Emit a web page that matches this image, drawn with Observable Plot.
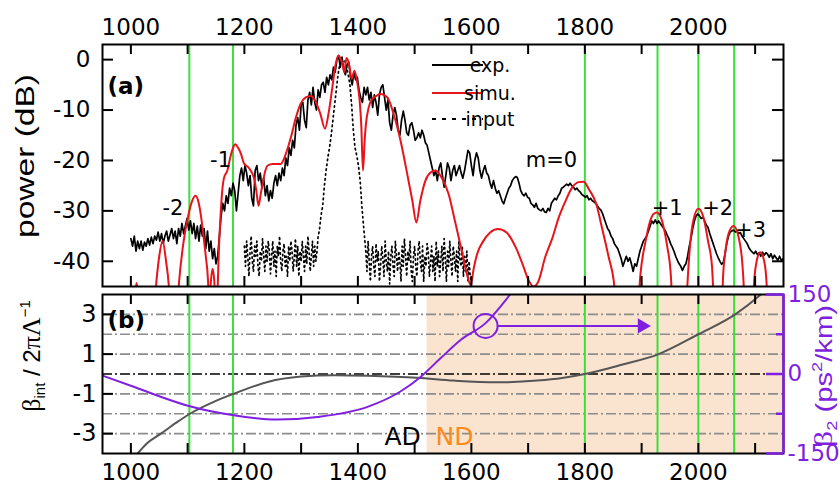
<!DOCTYPE html>
<html>
<head>
<meta charset="utf-8">
<script src="https://cdn.jsdelivr.net/npm/d3@7"></script>
<script src="https://cdn.jsdelivr.net/npm/@observablehq/plot@0.6"></script>
<style>
  body { margin: 0; background: #fff; }
  #chart { position: relative; width: 840px; height: 490px; overflow: hidden; background: #fff; }
  #chart svg { position: absolute; left: 0; }
</style>
</head>
<body>
<div id="chart"></div>
<script>
// ---------- panel (a): spectra, wavelength in nm, power in dB ----------

// measured output spectrum, sampled every 3 nm from 1000 nm
const expStart = 1000, expStep = 3;
const expPower = [
  -35.5, -37, -35, -38, -36, -37.5, -36, -37.8, -36.2, -37,
  -35.5, -36.8, -35.2, -36.5, -35, -35.8, -34.2, -36, -34.5, -36.5,
  -35, -34, -36, -34.8, -33.5, -35.5, -34, -36.5, -33.5, -35,
  -32.5, -34.5, -33, -31.5, -33.8, -32, -34.5, -32.5, -35.5, -33,
  -36, -32.8, -35, -33.5, -37.5, -34, -38, -36, -39.5, -37.5,
  -40.5, -39, -35, -31, -28.5, -30, -27, -28.5, -25.5, -27,
  -24.5, -26, -30, -26.5, -23, -21.5, -24, -21, -22.5, -25,
  -23, -27.5, -29, -22, -21, -24, -22.5, -25.5, -23.5, -27,
  -25, -28, -26, -27.5, -24.5, -23, -25, -22.5, -24, -21.5,
  -23, -19.5, -21, -17.5, -19, -16, -17.5, -13, -11.5, -14,
  -9, -8.5, -12, -13.5, -8, -6.5, -9, -5.5, -8.5, -10,
  -6, -7.5, -5, -4.5, -6.5, -3.5, -5, -3, -4, -1.5,
  -2.5, 0, 0.8, -1.5, 0.5, -2, -3, -1, -0.5, -3.5,
  -5, -2.5, -4, -3.5, -6, -7.5, -8.5, -5.5, -7, -5.5,
  -8, -6.5, -9.5, -7, -8.5, -11, -7, -5.5, -5, -7.5,
  -10, -8, -12.5, -14, -11, -9.5, -11, -14, -15, -12,
  -10.2, -12, -14.5, -15, -13, -12.5, -14, -16, -15.5, -14.5,
  -15.5, -14, -15, -16.5, -17, -18.5, -20, -21.5, -23, -22,
  -24, -21.5, -20.5, -23, -25.3, -23, -20.5, -21.5, -24, -22,
  -21, -23, -22, -21, -22.5, -23.5, -22, -20, -18, -18.5,
  -21, -23, -20, -18.5, -19.5, -22, -23.5, -22, -21, -22.5,
  -23, -24.5, -25.5, -24, -25.5, -26.5, -26, -27, -28, -28.6,
  -27.5, -26.5, -25.5, -25, -24, -23.5, -23.2, -23.4, -24.5, -26,
  -26.7, -27, -26.5, -27.3, -27.5, -28.5, -28.8, -29.3, -28.5, -29.5,
  -29.8, -30, -29.5, -30.2, -30.3, -29.5, -30, -28.5, -28, -27.5,
  -27.8, -27, -26.5, -25.5, -25.3, -25, -24.7, -25, -24.5, -25,
  -25.3, -25.8, -25.5, -26, -26.3, -26.8, -27, -27.3, -27, -27.8,
  -27.5, -28, -28.2, -28.5, -29, -29.5, -29.8, -30.5, -31.5, -32.5,
  -33.5, -34, -35, -35.5, -36.5, -37, -37.5, -38.5, -39.5, -41,
  -40, -39, -40, -39.3, -40.5, -42, -40.5, -41, -39.5, -38,
  -37, -36, -35.5, -35, -34, -33, -32, -32.5, -31.8, -32.5,
  -32, -32.5, -33, -33.5, -34, -34.8, -35.5, -36.5, -37.2, -38,
  -39, -39.8, -40.5, -41, -41.8, -41, -40.5, -39, -37, -35.5,
  -33.5, -32, -31, -30.6, -31, -31.5, -31.3, -32, -32.8, -33.3,
  -34.5, -35.5, -36.5, -37.5, -38.5, -39.3, -40, -40.6, -40.2, -38.5,
  -36.5, -35, -34.2, -34, -33.8, -34.2, -34, -34.5, -34.3, -35,
  -35.5, -36, -36.5, -37.3, -37.8, -38.2, -38.5, -38, -38.7, -38.3,
  -39, -38.2, -38.8, -38.3, -38.6, -39.2, -38.5, -39.5, -38.8, -39.3,
  -39.8, -39, -39.8, -39.5
];

// simulated output spectrum [nm, dB]; lobes dip far below the frame between peaks
const simuSpectrum = [
  [950, -60], [1004, -50], [1010, -44.3], [1016, -50], [1036, -58],
  [1045, -44], [1050, -39], [1056, -36], [1062, -40], [1067, -45], [1072, -55],
  [1080, -52], [1085, -44], [1093, -36], [1101, -31], [1108, -28], [1114, -27],
  [1119, -28.2], [1123, -30.6], [1128, -35], [1132, -39], [1136, -44], [1138, -50],
  [1141, -44], [1144, -41.5], [1147, -44], [1150, -52], [1153, -45], [1155, -38],
  [1158, -31], [1161, -26], [1164, -23.5], [1170, -22], [1176, -19], [1180, -17.5],
  [1184, -16.8], [1189, -17.5], [1194, -18.7], [1199, -20.5], [1208, -21.5],
  [1217, -23.5], [1221, -26], [1225, -29], [1229, -26.5], [1232, -24.7], [1237, -22],
  [1241, -21], [1250, -20.7], [1264, -20.7], [1273, -18.7], [1282, -15.4],
  [1291, -11.4], [1299, -8.8], [1308, -7.5], [1317, -7.2], [1325, -8.2],
  [1334, -10.8], [1342, -13.7], [1349, -10.2], [1355, -5.5], [1361, -0.8],
  [1366, 0.8], [1370, 0], [1373, -0.8], [1376, -2.5], [1380, 0.3], [1385, -1.2],
  [1389, -3.8], [1394, -2.2], [1399, -4.6], [1403, -8], [1406, -13], [1409, -22],
  [1412, -16], [1414, -13], [1419, -9.5], [1424, -8], [1431, -7.3], [1440, -6.8],
  [1452, -7.5], [1463, -10.8], [1475, -16], [1487, -22.7], [1496, -28], [1503, -32.3],
  [1510, -28], [1519, -24], [1528, -22.4], [1537, -22], [1548, -23.5], [1560, -26.7],
  [1571, -32], [1583, -37.9], [1592, -42.5], [1599, -44.7], [1604, -41.5],
  [1610, -38.6], [1621, -36], [1633, -34.3], [1647, -33.6], [1662, -34.3],
  [1678, -37.2], [1690, -40.5], [1701, -43.8], [1710, -45], [1718, -44],
  [1730, -39.2], [1743, -35.3], [1754, -31.3], [1766, -28], [1778, -25.3],
  [1789, -24.3], [1798, -24.2], [1807, -25.7], [1820, -28.6], [1830, -33.3],
  [1842, -39.2], [1851, -44], [1856, -50], [1875, -60], [1893, -50],
  [1898, -42.5], [1907, -36], [1915, -32], [1921, -30.6], [1927, -30.3],
  [1936, -32], [1945, -37], [1951, -42], [1955, -50], [1968, -60], [1978, -50],
  [1982, -42], [1986, -36], [1991, -32], [2000, -29.6], [2009, -31.3], [2017, -36],
  [2024, -41], [2028, -50], [2036, -60], [2041, -50], [2044, -42], [2047, -38.6],
  [2053, -34.6], [2062, -33], [2071, -35.3], [2077, -39.8], [2080, -45], [2083, -55],
  [2090, -60], [2095, -50], [2099, -43], [2103, -39.8], [2109, -38.2], [2116, -40],
  [2120, -44], [2123, -55], [2135, -60], [2150, -58]
];

// input pump spectrum: noise floor on a 2 nm grid either side of the pulse
const floorLeftStart = 1200, floorRightStart = 1414, floorStep = 2;
const inputFloorLeft = [
  -37, -41, -36, -39, -43, -38, -35, -40, -42, -37,
  -39, -36, -41, -43, -38, -40, -35.5, -39, -42, -37,
  -40, -36, -38, -42.5, -39, -36, -41, -38, -43, -37,
  -39, -35, -40, -42, -38, -36.5, -41, -39, -43, -37,
  -40, -36, -38, -42, -39, -35.5, -41, -37, -43, -38,
  -40, -36, -39, -42, -37, -40.5, -35, -38, -42, -39,
  -36, -41, -37, -40, -38, -35
];
const inputPulse = [
  [1332, -34], [1335, -31], [1338, -29], [1341, -25], [1344, -22], [1347, -19.5],
  [1350, -17.5], [1353, -15], [1356, -12], [1359, -9], [1362, -6], [1365, -3],
  [1368, -1], [1371, 0], [1374, -0.5], [1377, -0.2], [1380, -1.5], [1383, -3],
  [1386, -5], [1389, -9], [1392, -14], [1395, -17.5], [1398, -19], [1401, -21],
  [1404, -24], [1407, -29], [1410, -33], [1412, -35.5]
];
const inputFloorRight = [
  -38, -42, -36, -40, -44, -39, -37, -41, -43, -36.5,
  -40, -38, -44, -41, -37, -39.5, -43, -36, -40, -42,
  -38, -44.5, -39, -37, -41, -43, -36, -39, -42, -38,
  -40, -44, -37, -41, -35.5, -39, -43, -38, -40, -36,
  -42, -44, -39, -37, -41, -43, -38, -36, -40, -42,
  -37, -44, -39, -41, -36.5, -38, -43, -40, -37, -42,
  -39, -44, -36, -41, -38, -43, -40, -37, -42, -35.5,
  -39, -44, -38, -41, -36, -40, -43, -37, -39, -42,
  -38, -44, -36, -40, -41, -37, -43, -39, -42, -38,
  -44, -40, -43, -44.5
];

// phase-matched wavelengths of the dispersive waves (nm)
const modeWavelengths = [1103, 1180, 1800, 1928, 2000, 2063];
const orderLabels = [
  {t: "-2", x: 1074, y: -29.4},
  {t: "-1", x: 1158, y: -20},
  {t: "m=0", x: 1741, y: -20},
  {t: "+1", x: 1945, y: -29.4},
  {t: "+2", x: 2034, y: -29.4},
  {t: "+3", x: 2092, y: -33.9}
];

// ---------- panel (b): integrated phase mismatch and GVD ----------
const betaInt = [
  [1012, -4], [1030, -3.45], [1053, -3], [1080, -2.45], [1104, -2], [1146, -1.4],
  [1181, -1], [1241, -0.4], [1300, -0.13], [1358, -0.06], [1417, -0.09],
  [1505, -0.19], [1569, -0.33], [1646, -0.42], [1716, -0.33], [1760, -0.2],
  [1800, 0], [1863, 0.45], [1930, 1.0], [2000, 2.0], [2065, 3.0], [2110, 4.0], [2150, 5.1]
];
// beta2 in ps^2/km
const beta2 = [
  [950, -3], [1005, -24], [1050, -42], [1104, -61], [1181, -78], [1258, -86],
  [1329, -81], [1417, -62], [1475, -33], [1511, -5], [1546, 30], [1581, 64],
  [1625, 96], [1669, 151], [1690, 180]
];
const ndBoundary = 1522; // zero-dispersion wavelength, start of normal dispersion
const b2Scale = 37.5;     // 150 ps^2/km on the right axis corresponds to 4 on the left
const cursor = {x: 1625, y: 2.42, arrowFrom: 1646, arrowTo: 1901};

// ticks
const xTickLabels = [1000, 1200, 1400, 1600, 1800, 2000];
const xMinorTicks = [1000, 1100, 1200, 1300, 1400, 1500, 1600, 1700, 1800, 1900, 2000, 2100];
const powerTicks = [0, -10, -20, -30, -40];
const betaTicks = [3, 1, -1, -3];
const gridLevels = [3, 2, 1, -1, -2, -3];
const b2Labels = [150, 0, -150];
const b2Minor = [75, -75];

// ---------- styling ----------
const W = 840, IW = 840 - 102 - 57;
const topH = 290, topIH = topH - 44 - 4;
const botH = 200, botIH = botH - 4 - 37;
const green = "#3ce03c", red = "#e8141c", purple = "#7f1fe0", peach = "#fae4cf", orange = "#ff8a1c";
const font = "DejaVu Sans, Liberation Sans, sans-serif";

const expSpectrum = expPower.map((p, i) => [expStart + i * expStep, p]);
const inputSpectrum = [
  ...inputFloorLeft.map((p, i) => [floorLeftStart + i * floorStep, p]),
  ...inputPulse,
  ...inputFloorRight.map((p, i) => [floorRightStart + i * floorStep, p])
];

function frameTicks(ih, yTicks, right) {
  const marks = [
    Plot.tickX(xMinorTicks, {x: d => d, insetBottom: ih - 10, strokeWidth: 2}),
    Plot.tickX(xMinorTicks, {x: d => d, insetTop: ih - 10, strokeWidth: 2}),
    Plot.tickY(yTicks, {y: d => d, insetRight: IW - 11, strokeWidth: 2})
  ];
  if (right) marks.push(Plot.tickY(yTicks, {y: d => d, insetLeft: IW - 11, strokeWidth: 2}));
  return marks;
}

const topPlot = Plot.plot({
  width: W, height: topH,
  marginTop: 44, marginRight: 57, marginBottom: 4, marginLeft: 102,
  x: {domain: [950, 2150], label: null},
  y: {domain: [-45, 3], label: null},
  style: {fontFamily: font, fontSize: "23px", color: "black", background: "transparent", overflow: "visible"},
  marks: [
    Plot.ruleX(modeWavelengths, {x: d => d, stroke: green, strokeWidth: 2}),
    Plot.line(inputSpectrum, {x: d => d[0], y: d => d[1], stroke: "black", strokeWidth: 1.7, strokeDasharray: "1.5,3.4", clip: true}),
    Plot.line(expSpectrum, {x: d => d[0], y: d => d[1], stroke: "black", strokeWidth: 1.7, clip: true}),
    Plot.line(simuSpectrum, {x: d => d[0], y: d => d[1], stroke: red, strokeWidth: 2, curve: "monotone-x", clip: true}),
    ...frameTicks(topIH, powerTicks, true),
    Plot.frame({strokeWidth: 2}),
    Plot.axisX({anchor: "top", ticks: xTickLabels, tickSize: 0, tickPadding: 10, tickFormat: d => String(d), fontSize: 23, label: null}),
    Plot.axisY({anchor: "left", ticks: powerTicks, tickSize: 0, tickPadding: 12, tickFormat: d => String(d), fontSize: 23, label: null}),
    Plot.text(orderLabels, {x: "x", y: "y", text: "t", fontSize: 21}),
    Plot.text(["(a)"], {text: d => d, frameAnchor: "top-left", dx: 5, dy: 33, fontWeight: "bold", fontSize: 23})
  ]
});

const botPlot = Plot.plot({
  width: W, height: botH,
  marginTop: 4, marginRight: 57, marginBottom: 37, marginLeft: 102,
  x: {domain: [950, 2150], label: null},
  y: {domain: [-4, 4], label: null},
  style: {fontFamily: font, fontSize: "23px", color: "black", background: "transparent", overflow: "visible"},
  marks: [
    Plot.rect([{start: ndBoundary, end: 2150}], {x1: "start", x2: "end", fill: peach}),
    Plot.ruleY(gridLevels, {y: d => d, stroke: "#8c8c8c", strokeWidth: 1.6, strokeDasharray: "10,3,2,3"}),
    Plot.ruleY([0], {y: d => d, stroke: "black", strokeWidth: 1.6, strokeDasharray: "10,3,2,3"}),
    Plot.ruleX(modeWavelengths, {x: d => d, stroke: green, strokeWidth: 2}),
    Plot.line(betaInt, {x: d => d[0], y: d => d[1], stroke: "#555", strokeWidth: 2, curve: "monotone-x", clip: true}),
    Plot.line(beta2, {x: d => d[0], y: d => d[1] / b2Scale, stroke: purple, strokeWidth: 2, curve: "monotone-x", clip: true}),
    Plot.dot([cursor], {x: "x", y: "y", r: 12, stroke: purple, strokeWidth: 2, fill: "none"}),
    Plot.link([cursor], {x1: "arrowFrom", x2: "arrowTo", y1: "y", y2: "y", stroke: purple, strokeWidth: 2}),
    Plot.dot([cursor], {x: "arrowTo", y: "y", symbol: "triangle", rotate: 90, r: 5.6, fill: purple, stroke: "none"}),
    ...frameTicks(botIH, betaTicks, false),
    Plot.frame({strokeWidth: 2}),
    Plot.ruleX([2150], {x: d => d, stroke: purple, strokeWidth: 2.5}),
    Plot.tickY(b2Labels, {y: d => d / b2Scale, insetLeft: IW - 17, stroke: purple, strokeWidth: 2.5}),
    Plot.tickY(b2Minor, {y: d => d / b2Scale, insetLeft: IW - 7, stroke: purple, strokeWidth: 2.5}),
    Plot.axisX({anchor: "bottom", ticks: xTickLabels, tickSize: 0, tickPadding: 10, tickFormat: d => String(d), fontSize: 23, label: null}),
    Plot.axisY({anchor: "left", ticks: betaTicks, tickSize: 0, tickPadding: 6, tickFormat: d => String(d), fontSize: 24, label: null}),
    Plot.axisY({anchor: "right", ticks: b2Labels.map(v => v / b2Scale), tickSize: 0, tickPadding: 4, label: null,
      tickFormat: d => String(Math.round(d * b2Scale)), fontSize: 23, fill: purple, color: purple}),
    Plot.text([{t: "AD", x: 1511, y: -3.18}], {x: "x", y: "y", text: "t", textAnchor: "end", fontSize: 25, fill: "black"}),
    Plot.text([{t: "ND", x: 1537, y: -3.18}], {x: "x", y: "y", text: "t", textAnchor: "start", fontSize: 25, fill: orange}),
    Plot.text(["(b)"], {text: d => d, frameAnchor: "top-left", dx: 5, dy: 17, fontWeight: "bold", fontSize: 23})
  ]
});

const chart = document.getElementById("chart");
topPlot.style.top = "0px";
botPlot.style.top = "290px";
chart.appendChild(topPlot);
chart.appendChild(botPlot);

// legend of panel (a)
const legend = d3.select(topPlot).append("g").attr("font-family", font).attr("font-size", 19);
const legendItems = [
  {label: "exp.", stroke: "black", dash: null, y: 65},
  {label: "simu.", stroke: red, dash: null, y: 93},
  {label: "input", stroke: "black", dash: "4,6", y: 119}
];
for (const item of legendItems) {
  legend.append("line").attr("x1", 432).attr("x2", 483).attr("y1", item.y).attr("y2", item.y)
    .attr("stroke", item.stroke).attr("stroke-width", 1.8).attr("stroke-dasharray", item.dash);
  legend.append("text").attr("x", 490).attr("y", item.y + 7).text(item.label);
}

// axis titles
d3.select(topPlot).append("text")
  .attr("transform", "translate(34,156) rotate(-90)")
  .attr("text-anchor", "middle").attr("font-family", "Liberation Sans, sans-serif").attr("font-size", 26)
  .attr("textLength", 164).attr("lengthAdjust", "spacingAndGlyphs")
  .text("power (dB)");

const leftTitle = d3.select(botPlot).append("text")
  .attr("transform", "translate(40,66) rotate(-90)")
  .attr("text-anchor", "middle").attr("font-family", "Liberation Sans, sans-serif").attr("font-size", 24);
leftTitle.append("tspan").attr("font-family", "Liberation Serif, serif").attr("font-size", 26).text("β");
leftTitle.append("tspan").attr("font-size", 15).attr("dy", 5).text("int");
leftTitle.append("tspan").attr("dy", -5).text(" / 2");
leftTitle.append("tspan").attr("font-family", "Liberation Serif, serif").attr("font-size", 26).text("πΛ");
leftTitle.append("tspan").attr("font-size", 15).attr("dy", -10).text("−1");

const rightTitle = d3.select(botPlot).append("text")
  .attr("transform", "translate(832,86) rotate(-90)")
  .attr("text-anchor", "middle").attr("font-family", "Liberation Sans, sans-serif").attr("font-size", 24)
  .attr("fill", purple).attr("textLength", 142).attr("lengthAdjust", "spacingAndGlyphs");
rightTitle.append("tspan").attr("font-family", "Liberation Serif, serif").attr("font-size", 26).text("β");
rightTitle.append("tspan").attr("font-size", 15).attr("dy", 5).text("2");
rightTitle.append("tspan").attr("dy", -5).text(" (ps");
rightTitle.append("tspan").attr("font-size", 15).attr("dy", -10).text("2");
rightTitle.append("tspan").attr("dy", 10).text("/km)");
</script>
</body>
</html>
